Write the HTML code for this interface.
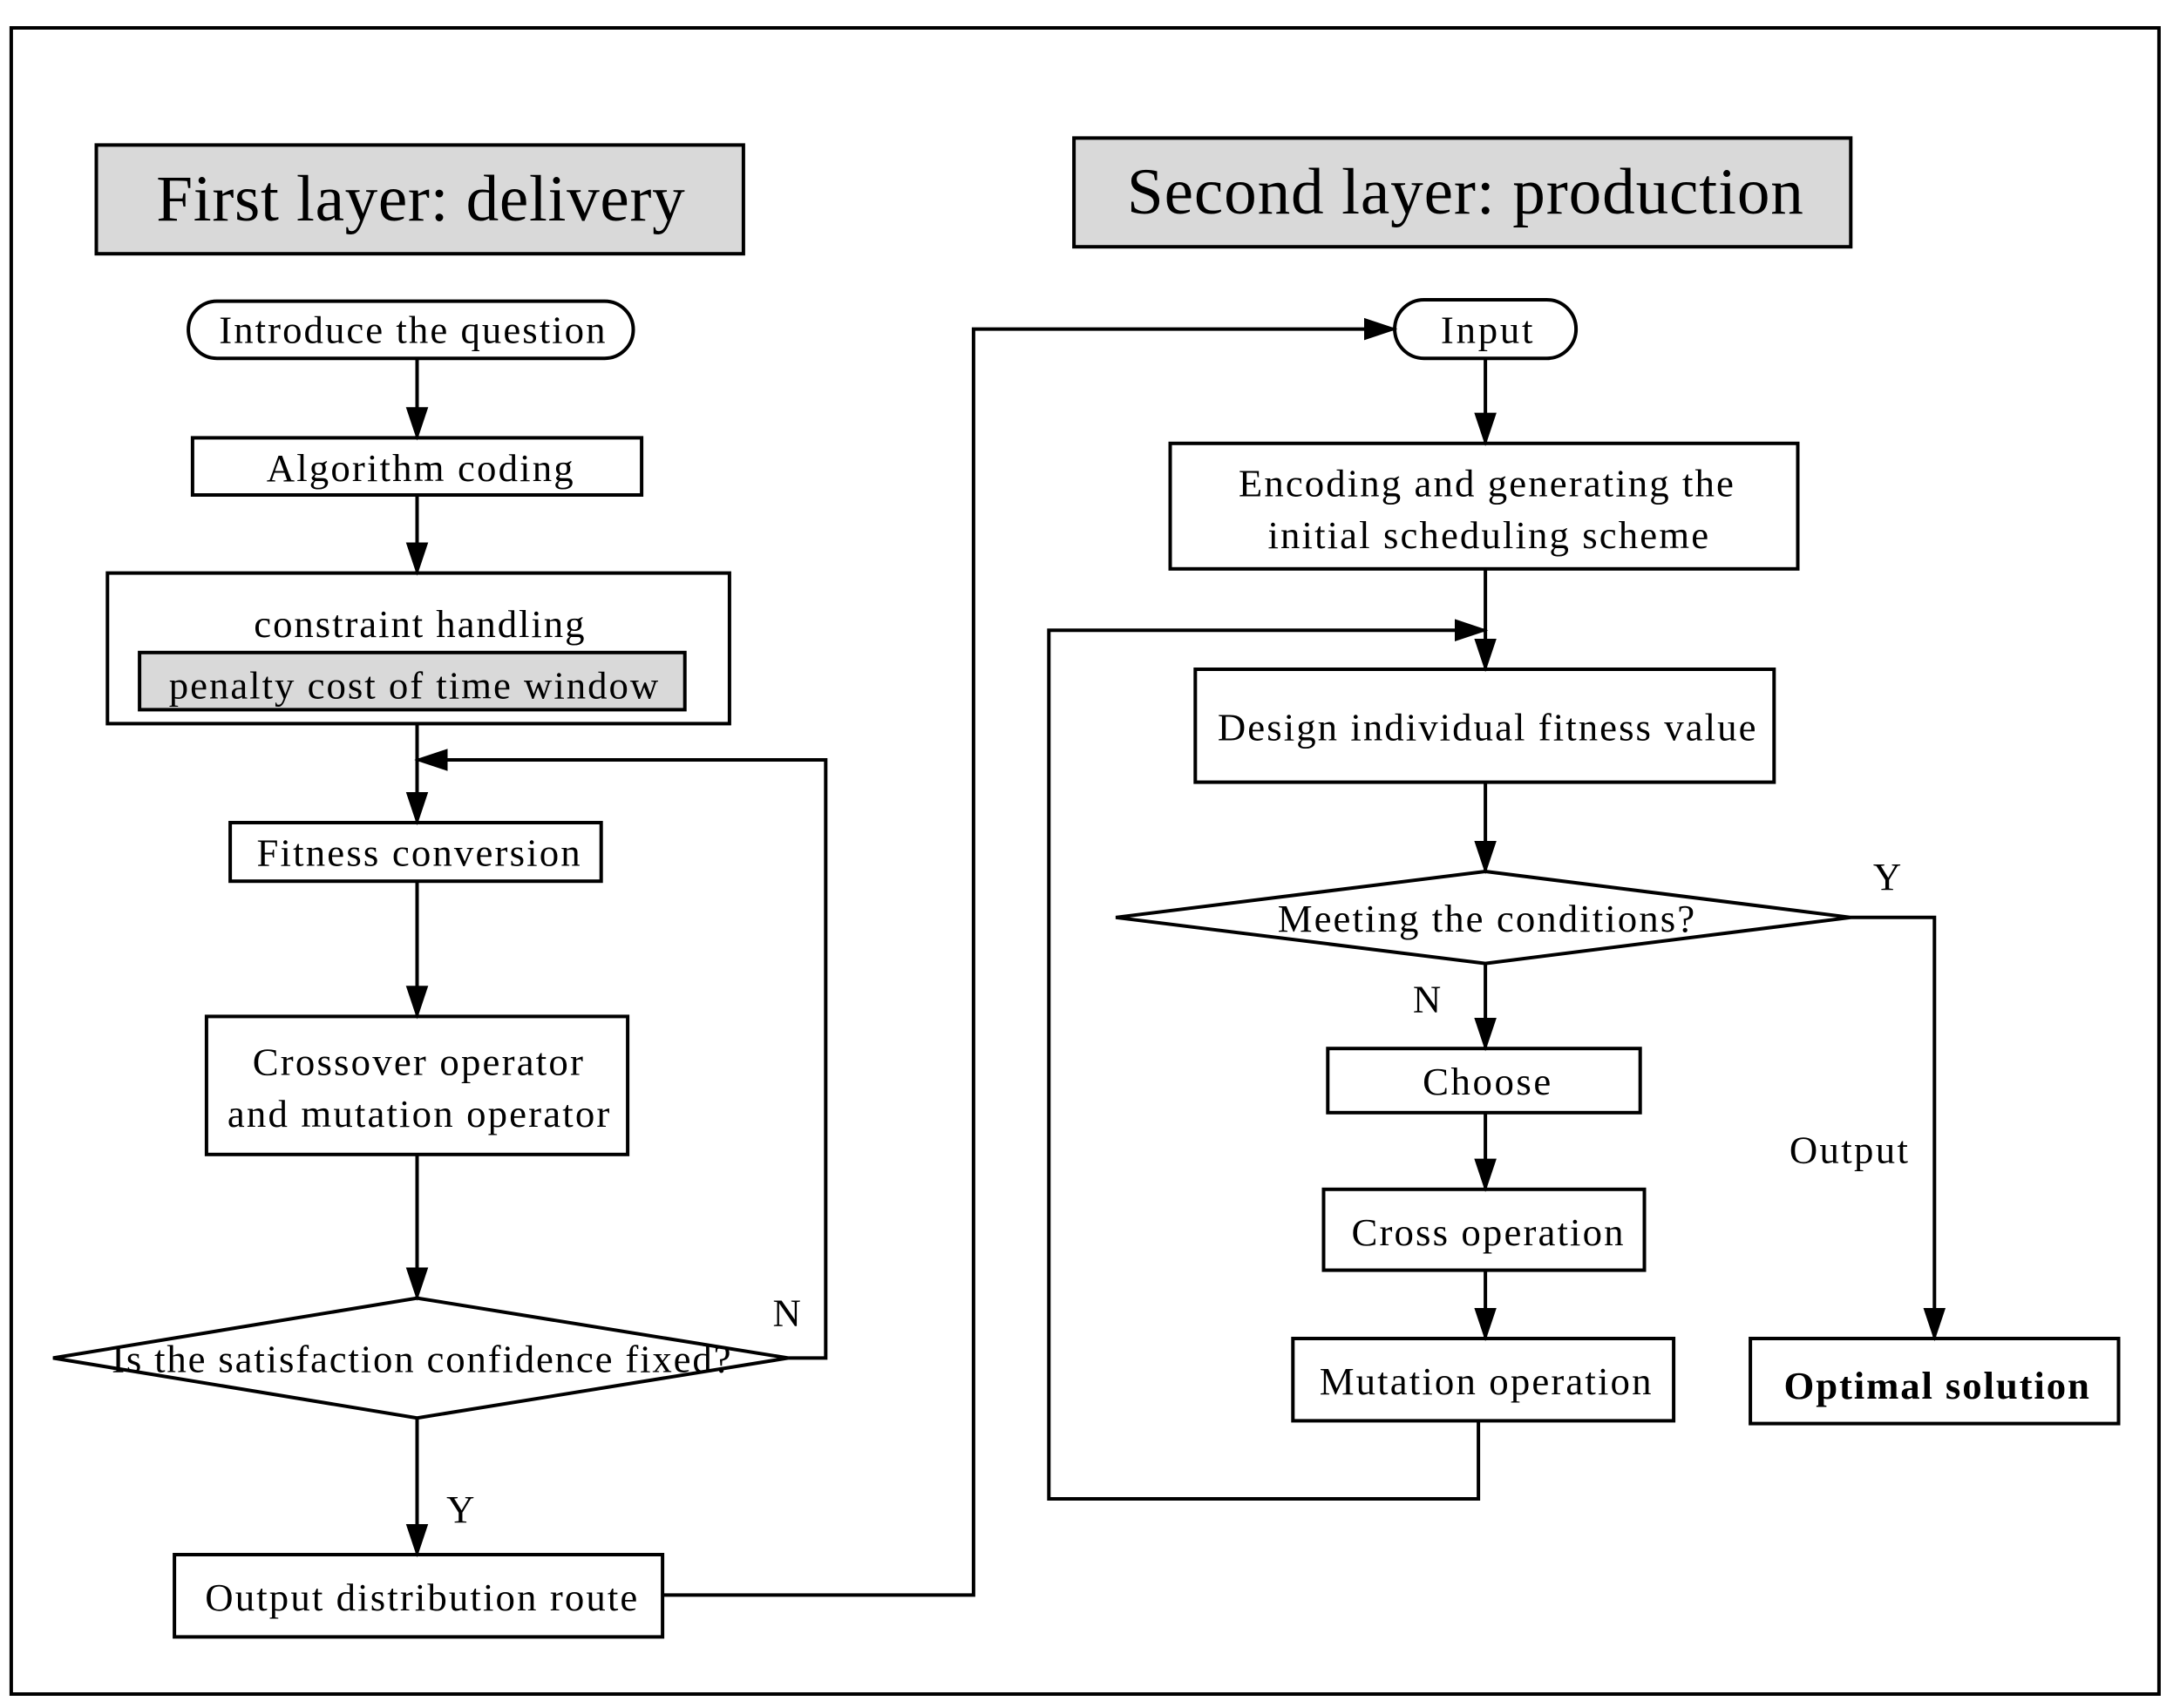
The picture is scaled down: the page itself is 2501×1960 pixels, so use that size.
<!DOCTYPE html>
<html><head><meta charset="utf-8"><style>html,body{margin:0;padding:0;background:#fff}svg{display:block}</style></head>
<body>
<svg width="2501" height="1960" viewBox="0 0 1563 1225" xmlns="http://www.w3.org/2000/svg" font-family="'Liberation Serif', serif" fill="none" stroke="#000" stroke-width="2.5">
<defs>
<marker id="b" markerWidth="24" markerHeight="24" refX="22" refY="8" orient="auto" markerUnits="userSpaceOnUse" viewBox="0 0 24 16"><path d="M0,0 L24,8 L0,16 z" fill="#000" stroke="none"/></marker></defs>
<rect x="8" y="20" width="1540" height="1195"/>
<rect x="69" y="104" width="464" height="78" fill="#d9d9d9"/>
<rect x="770" y="99" width="557" height="78" fill="#d9d9d9"/>
<rect x="135" y="216" width="319" height="41" rx="20.5" fill="#fff"/>
<rect x="138" y="314" width="322" height="41" fill="#fff"/>
<rect x="77" y="411" width="446" height="108" fill="#fff"/>
<rect x="100" y="468" width="391" height="41" fill="#d9d9d9"/>
<rect x="165" y="590" width="266" height="42" fill="#fff"/>
<rect x="148" y="729" width="302" height="99" fill="#fff"/>
<polygon points="38,974 299,931 565,974 299,1017" fill="#fff"/>
<rect x="125" y="1115" width="350" height="59" fill="#fff"/>
<rect x="1000" y="215" width="130" height="42" rx="21" fill="#fff"/>
<rect x="839" y="318" width="450" height="90" fill="#fff"/>
<rect x="857" y="480" width="415" height="81" fill="#fff"/>
<polygon points="800,658 1065,625 1327,658 1065,691" fill="#fff"/>
<rect x="952" y="752" width="224" height="46" fill="#fff"/>
<rect x="949" y="853" width="230" height="58" fill="#fff"/>
<rect x="927" y="960" width="273" height="59" fill="#fff"/>
<rect x="1255" y="960" width="264" height="61" fill="#fff"/>
<g marker-end="url(#b)">
<line x1="299" y1="257" x2="299" y2="314"/>
<line x1="299" y1="355" x2="299" y2="411"/>
<line x1="299" y1="519" x2="299" y2="590"/>
<polyline points="565,974 592,974 592,545 299,545"/>
<line x1="299" y1="632" x2="299" y2="729"/>
<line x1="299" y1="828" x2="299" y2="931"/>
<line x1="299" y1="1017" x2="299" y2="1115"/>
<polyline points="475,1144 698,1144 698,236 1000,236"/>
<line x1="1065" y1="257" x2="1065" y2="318"/>
<line x1="1065" y1="408" x2="1065" y2="480"/>
<polyline points="1060,1019 1060,1075 752,1075 752,452 1065,452"/>
<line x1="1065" y1="561" x2="1065" y2="625"/>
<polyline points="1327,658 1387,658 1387,960"/>
<line x1="1065" y1="691" x2="1065" y2="752"/>
<line x1="1065" y1="798" x2="1065" y2="853"/>
<line x1="1065" y1="911" x2="1065" y2="960"/>
</g>
<g fill="#000" stroke="none" font-size="28" lengthAdjust="spacing">
<text x="112" y="158" font-size="47" textLength="379">First layer: delivery</text>
<text x="808" y="153" font-size="47" textLength="485">Second layer: production</text>
<text x="157" y="246" textLength="277">Introduce the question</text>
<text x="191" y="345" textLength="220">Algorithm coding</text>
<text x="182" y="457" textLength="237">constraint handling</text>
<text x="121" y="501" textLength="351">penalty cost of time window</text>
<text x="184" y="621" textLength="232">Fitness conversion</text>
<text x="181" y="771" textLength="237">Crossover operator</text>
<text x="163" y="808" textLength="274">and mutation operator</text>
<text x="80" y="984" textLength="444">Is the satisfaction confidence fixed?</text>
<text x="554" y="951">N</text>
<text x="320" y="1092">Y</text>
<text x="147" y="1155" textLength="310">Output distribution route</text>
<text x="1033" y="246" textLength="66">Input</text>
<text x="888" y="356" textLength="355">Encoding and generating the</text>
<text x="909" y="393" textLength="316">initial scheduling scheme</text>
<text x="873" y="531" textLength="386">Design individual fitness value</text>
<text x="916" y="668" textLength="299">Meeting the conditions?</text>
<text x="1343" y="638">Y</text>
<text x="1013" y="726">N</text>
<text x="1020" y="785" textLength="92">Choose</text>
<text x="969" y="893" textLength="195">Cross operation</text>
<text x="946" y="1000" textLength="238">Mutation operation</text>
<text x="1283" y="834" textLength="85">Output</text>
<text x="1279" y="1003" font-weight="bold" textLength="219">Optimal solution</text>
</g>
</svg>
</body></html>
